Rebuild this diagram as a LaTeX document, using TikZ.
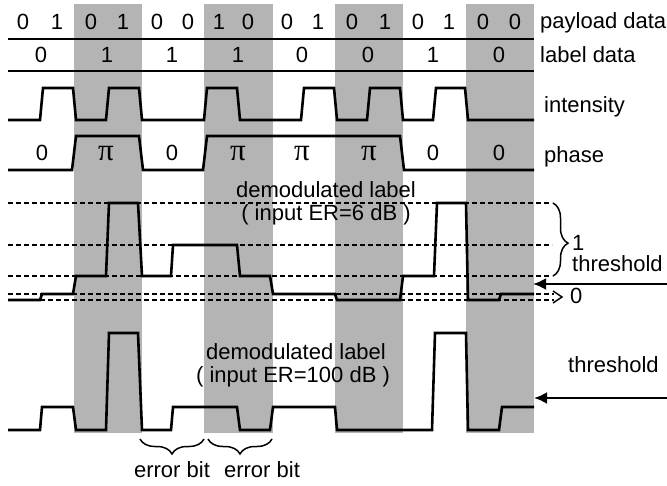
\documentclass[tikz,border=0pt]{standalone}
\usepackage{fontspec}
\setmainfont{Liberation Sans}
\newfontfamily\pifont{Liberation Serif}
\usetikzlibrary{decorations.pathreplacing,arrows.meta}
\definecolor{bandgray}{RGB}{180,180,180}
\newcommand{\lblfont}{\fontsize{22}{26}\selectfont}
\newcommand{\phasepi}{{\pifont\fontsize{31}{32}\selectfont π}}
\begin{document}
\begin{tikzpicture}[x=1pt,y=-1pt,
  every node/.style={font=\lblfont, inner sep=0pt, text=black},
  txt/.style={anchor=base},
  txtw/.style={anchor=base west},
  band/.style={fill=bandgray, draw=none},
  rule/.style={line width=1.8pt},
  sig/.style={line width=2.6pt, line join=miter},
  dline/.style={line width=1.2pt, dash pattern=on 5pt off 3pt},
  thr/.style={line width=2.4pt, -{Latex[length=13pt,width=12pt]}},
  bracestyle/.style={line width=1.5pt, decorate, decoration={brace, amplitude=15pt}}]
\useasboundingbox (0,0) rectangle (667,486);
% gray bands
\foreach \a/\b in {74/142,204/273,335/403,466/534}
  \fill[band] (\a,4) rectangle (\b,433);
% separator lines
\draw[rule] (8,39) -- (534,39);
\draw[rule] (8,71) -- (534,71);
% payload data
\foreach \x/\t [count=\i] in {23/0,57/1,91/0,123/1,157/0,188/0,219/1,248/0,287/0,318/1,352/0,385/1,418/0,449/1,483/0,515/0}
  \node[txt] (p\i) at (\x,30) {\t};
\node[txtw] (pl) at (540,29) {payload data};
% label data
\foreach \x/\t [count=\i] in {41/0,107/1,172/1,238/1,302/0,368/0,433/1,499/0}
  \node[txt] (l\i) at (\x,63) {\t};
\node[txtw] (ll) at (540,63) {label data};
% intensity
\draw[sig] (8,120) -- (40,120) -- (43,88) -- (73,88) -- (76,120) -- (106,120) -- (109,88) -- (139,88) -- (142,120)
  -- (204,120) -- (207,88) -- (237,88) -- (240,120) -- (301,120) -- (304,88) -- (334,88) -- (337,120)
  -- (367,120) -- (370,88) -- (400,88) -- (403,120) -- (433,120) -- (436,88) -- (465,88) -- (468,120) -- (534,120);
\node[txtw] (il) at (544,113) {intensity};
% phase
\draw[sig] (8,170) -- (72,170) -- (76,136) -- (139,136) -- (143,170) -- (203,170) -- (207,136) -- (400,136) -- (404,170) -- (534,170);
\foreach \x/\t [count=\i] in {42/0,106/\phasepi,172/0,238/\phasepi,302/\phasepi,369/\phasepi,433/0,499/0}
  \node[txt] (f\i) at (\x,161) {\t};
\node[txtw] (fl) at (544,163) {phase};
% dashed reference lines (ER=6 dB)
\draw[dline] (8,203) -- (552,203);
\draw[dline] (8,245) -- (552,245);
\draw[dline] (8,276) -- (552,276);
\draw[dline] (8,294) -- (554,294);
\draw[dline] (8,300) -- (554,300);
\draw[line width=1.4pt] (553,291) -- (562,297) -- (553,303);
% demodulated label ER=6 dB
\draw[sig] (8,300) -- (40,300) -- (42,294) -- (73,294) -- (76,276) -- (106,276) -- (109,203) -- (138,203) -- (142,276)
  -- (171,276) -- (173,245) -- (237,245) -- (240,276) -- (270,276) -- (273,294) -- (335,294) -- (337,300)
  -- (400,300) -- (403,276) -- (434,276) -- (437,203) -- (466,203) -- (468,300) -- (499,300) -- (501,294) -- (534,294);
\node[txt] (d1a) at (326,198) {demodulated label};
\node[txt] (d1b) at (326,221) {( input ER=6 dB )};
\draw[bracestyle, decoration={aspect=0.55}] (553,203) -- (553,276);
\node[txtw] (one) at (572,251) {1};
\node[txtw] (zero) at (570,304) {0};
\node[txtw] (th1) at (572,272) {threshold};
\coordinate (t1s) at (667,284);
\coordinate (t1e) at (533,284);
\draw[thr] (t1s) -- (t1e);
% demodulated label ER=100 dB
\draw[sig] (8,430) -- (40,430) -- (42,407) -- (73,407) -- (76,430) -- (106,430) -- (109,333) -- (138,333) -- (142,430)
  -- (171,430) -- (173,407) -- (237,407) -- (240,430) -- (270,430) -- (273,407) -- (335,407) -- (337,430)
  -- (432,430) -- (435,333) -- (466,333) -- (468,430) -- (499,430) -- (502,407) -- (534,407);
\node[txt] (d2a) at (296,360) {demodulated label};
\node[txt] (d2b) at (293,383) {( input ER=100 dB )};
\node[txtw] (th2) at (568,373) {threshold};
\coordinate (t2s) at (667,398);
\coordinate (t2e) at (534,398);
\draw[thr] (t2s) -- (t2e);
% error bits
\draw[bracestyle] (204,439) -- (140,439);
\draw[bracestyle] (272,439) -- (208,439);
\node[txt] (e1) at (172,477) {error bit};
\node[txt] (e2) at (262,477) {error bit};
\end{tikzpicture}
\end{document}
